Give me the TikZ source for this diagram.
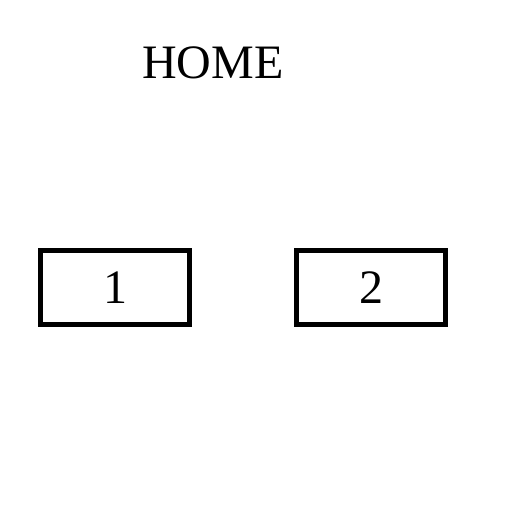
\documentclass[tikz,border=0pt]{standalone}
\usepackage{fontspec}
\setmainfont{Liberation Serif}
\begin{document}
\begin{tikzpicture}[x=1pt,y=-1pt,
  boxnode/.style={draw=black,line width=4.5pt,minimum width=149pt,minimum height=74pt,inner sep=0pt,font=\fontsize{48}{48}\selectfont},
  titlenode/.style={anchor=base,inner sep=0pt,font=\fontsize{48}{48}\selectfont}]
\useasboundingbox (0,0) rectangle (512,512);
\node[titlenode] (home) at (213,78) {HOME};
\node[boxnode] (b1) at (115.2,287.3) {1};
\node[boxnode] (b2) at (371,287.3) {2};
\end{tikzpicture}
\end{document}
